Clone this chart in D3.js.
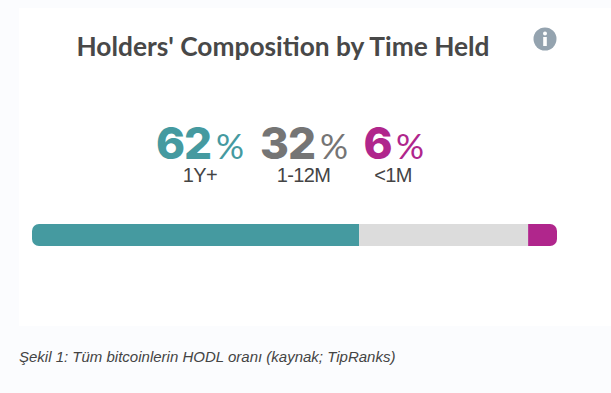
<!DOCTYPE html>
<html><head><meta charset="utf-8">
<script src="https://cdnjs.cloudflare.com/ajax/libs/d3/7.8.5/d3.min.js"></script>
<style>html,body{margin:0;padding:0;background:#fbfcfe;overflow:hidden}svg{display:block}</style>
</head><body><svg id="c" width="611" height="393"></svg>
<script>
const categories = ["1Y+", "1-12M", "<1M"];
const labelValues = [62, 32, 6];
const barValues = [62.3, 32.2, 5.5];
const colors = ["#459aa0", "#dcdcdc", "#b0268c"];
const textColors = ["#459aa0", "#757575", "#b0268c"];
const titleText = "Holders' Composition by Time Held";
const captionText = "Şekil 1: Tüm bitcoinlerin HODL oranı (kaynak; TipRanks)";

const svg = d3.select("#c");
svg.append("rect").attr("x",19).attr("y",8).attr("width",592).attr("height",318).attr("fill","#fff");

svg.append("text").attr("x",283).attr("y",56).attr("text-anchor","middle")
  .attr("font-family","Lato").attr("font-weight",700).attr("font-size",26.3).attr("fill","#484848")
  .text(titleText);

const info = svg.append("g").attr("transform","translate(545,39)");
info.append("circle").attr("r",11.5).attr("fill","#94a3af");
info.append("circle").attr("cy",-5.5).attr("r",2).attr("fill","#fff");
info.append("rect").attr("x",-1.8).attr("y",-2).attr("width",3.6).attr("height",9).attr("fill","#fff");

const x = d3.scaleLinear().domain([0,100]).range([32,557]);
const cum = d3.cumsum(barValues);
const starts = [0, cum[0], cum[1]];
svg.append("defs").append("clipPath").attr("id","bar")
  .append("rect").attr("x",x(0)).attr("y",224).attr("width",x(100)-x(0)).attr("height",22).attr("rx",7);
svg.append("g").attr("clip-path","url(#bar)").selectAll("rect").data(barValues).join("rect")
  .attr("x",(d,i)=>x(starts[i])).attr("y",224).attr("width",(d,i)=>x(starts[i]+d)-x(starts[i])).attr("height",22)
  .attr("fill",(d,i)=>colors[i]);

const numX = [156, 260, 363.5];
const pctX = [216, 320, 396];
const catX = [200, 303.5, 393];
categories.forEach((c,i)=>{
  svg.append("text").attr("x",numX[i]).attr("y",159).attr("font-family","Inter").attr("font-weight",800)
    .attr("font-size",44).attr("letter-spacing",-1).attr("fill",textColors[i]).text(labelValues[i]);
  svg.append("text").attr("x",pctX[i]).attr("y",159).attr("font-family","Lato").attr("font-weight",400)
    .attr("font-size",35).attr("fill",textColors[i]).text("%");
  svg.append("text").attr("x",catX[i]).attr("y",182).attr("text-anchor","middle").attr("font-family","Liberation Sans")
    .attr("font-size",20).attr("letter-spacing",-0.6).attr("fill","#444").text(c);
});

svg.append("text").attr("x",19).attr("y",362).attr("font-family","Liberation Sans").attr("font-style","italic")
  .attr("font-size",15).attr("fill","#444").text(captionText);
</script></body></html>
